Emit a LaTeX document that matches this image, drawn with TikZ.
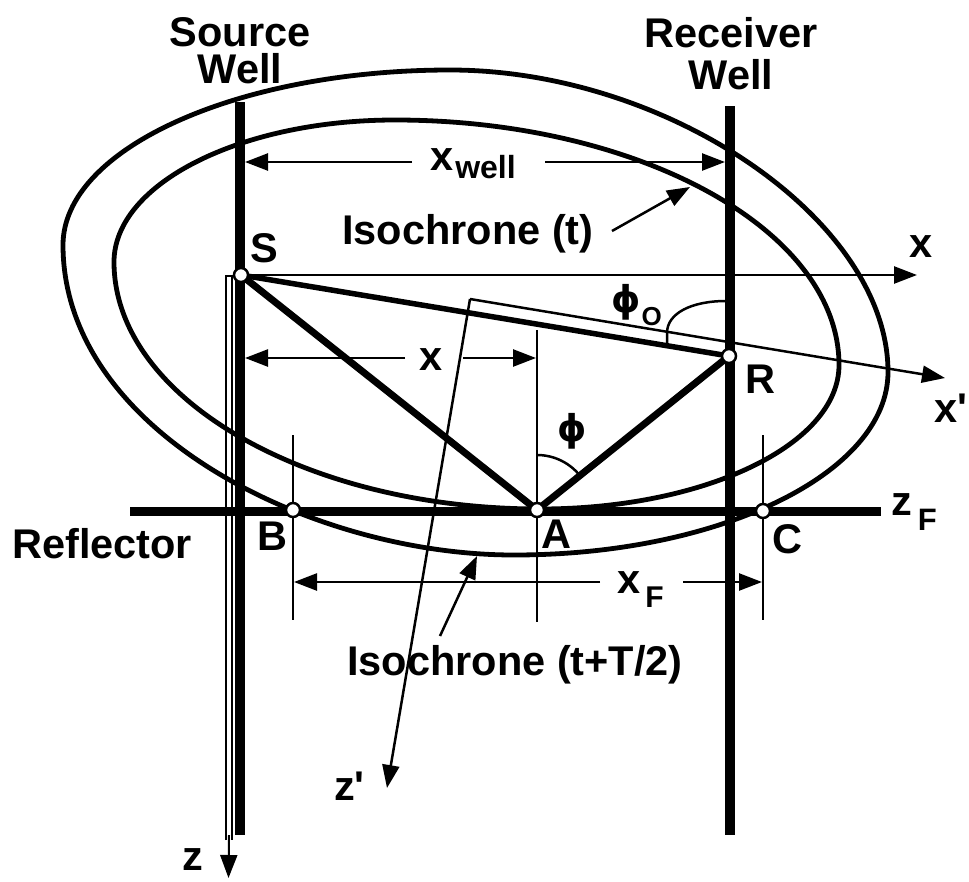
\documentclass[tikz,border=0pt]{standalone}
\usepackage{fontspec}
\setmainfont{Liberation Sans}[Ligatures=TeXOff]
\newfontfamily\phifont{DejaVu Sans}
\usetikzlibrary{arrows.meta}
\tikzset{
  lab/.style={font=\fontsize{41.5}{48}\selectfont\bfseries, inner sep=0pt, anchor=base west},
  stacklab/.style={font=\fontsize{41.5}{37}\selectfont\bfseries, inner sep=0pt, align=center},
  philab/.style={font={\fontsize{37}{44}\phifont\bfseries}, inner sep=0pt},
  dot/.style={circle, draw, fill=white, line width=2.5pt, minimum size=14pt, inner sep=0pt},
  wellln/.style={line width=9.5pt},
  ell/.style={line width=4.8pt},
  raypath/.style={line width=7pt, line cap=round},
  axisln/.style={line width=2.5pt},
  arrtip/.style={-{Triangle[length=23pt,width=17pt]}},
  dimln/.style={line width=2.5pt, arrtip},
}
\newcommand{\subtx}[3]{\raisebox{#1}{\fontsize{#2}{#2}\selectfont #3}}
\begin{document}
\begin{tikzpicture}[x=1pt,y=-1pt]
\useasboundingbox (0,0) rectangle (969,881);
% key points
\coordinate (pS) at (241,275);
\coordinate (pR) at (729,356);
\coordinate (pA) at (537,510);
\coordinate (pB) at (293,510);
\coordinate (pC) at (763,511);
% wells and reflector
\coordinate (SWtop) at (240,102);
\coordinate (SWbot) at (240,835);
\coordinate (RWtop) at (730,106);
\coordinate (RWbot) at (730,835);
\coordinate (RefL) at (130,511);
\coordinate (RefR) at (881,511);
% isochrone (t): inner
\coordinate (iL) at (114,262); \coordinate (iT) at (395,120);
\coordinate (iR) at (839,365); \coordinate (iB) at (540,509);
\draw[ell] (iL) .. controls (114,184) and (240,120) .. (iT)
  .. controls (639,120) and (839,230) .. (iR)
  .. controls (839,445) and (704,509) .. (iB)
  .. controls (306,509) and (114,398) .. cycle;
% isochrone (t+T/2): outer
\coordinate (oL) at (63,245); \coordinate (oT) at (450,70);
\coordinate (oR) at (888,372); \coordinate (oB) at (514,555);
\draw[ell] (oL) .. controls (63,149) and (237,70) .. (oT)
  .. controls (669,70) and (888,221) .. (oR)
  .. controls (888,473) and (720,555) .. (oB)
  .. controls (311,555) and (63,431) .. cycle;
\draw[wellln] (SWtop) -- (SWbot);
\draw[wellln] (RWtop) -- (RWbot);
\draw[line width=9pt] (RefL) -- (RefR);
% x axis
\coordinate (xEnd) at (917,275);
\draw[axisln, arrtip] (pS) -- (xEnd);
% z axis (hollow)
\coordinate (zA) at (226,276);
\coordinate (zB) at (232,276);
\coordinate (zAb) at (226,840);
\coordinate (zBb) at (232,840);
\coordinate (zMid) at (229,835);
\coordinate (zEnd) at (228.5,878);
\draw[line width=1.5pt] (zAb) -- (zA) -- (zB) -- (zBb);
\draw[line width=2pt, arrtip] (zMid) -- (zEnd);
% rotated frame
\coordinate (Op) at (470,299);
\coordinate (xpEnd) at (945,378);
\coordinate (zpEnd) at (387,788);
\draw[axisln, arrtip] (Op) -- (xpEnd);
\draw[axisln, arrtip] (Op) -- (zpEnd);
% ray paths
\draw[line width=5.5pt] (pS) -- (pR);
\draw[raypath] (pS) -- (pA) -- (pR);
% extension lines
\coordinate (eAt) at (537,330); \coordinate (eAb) at (537,622);
\coordinate (eBt) at (293,435); \coordinate (eBb) at (293,620);
\coordinate (eCt) at (763,435); \coordinate (eCb) at (763,620);
\draw[axisln] (eAt) -- (eAb);
\draw[axisln] (eBt) -- (eBb);
\draw[axisln] (eCt) -- (eCb);
% x_well dimension
\coordinate (xwL0) at (412,162); \coordinate (xwL1) at (245,162);
\coordinate (xwR0) at (545,162); \coordinate (xwR1) at (725,162);
\draw[dimln] (xwL0) -- (xwL1);
\draw[dimln] (xwR0) -- (xwR1);
% x dimension
\coordinate (xdL0) at (405,358); \coordinate (xdL1) at (245,358);
\coordinate (xdR0) at (463,358); \coordinate (xdR1) at (536,358);
\draw[dimln] (xdL0) -- (xdL1);
\draw[dimln] (xdR0) -- (xdR1);
% x_F dimension
\coordinate (xfL0) at (600,582); \coordinate (xfL1) at (294,582);
\coordinate (xfR0) at (683,582); \coordinate (xfR1) at (762,582);
\draw[dimln] (xfL0) -- (xfL1);
\draw[dimln] (xfR0) -- (xfR1);
% pointers
\coordinate (p1s) at (612,231); \coordinate (p1e) at (690,187);
\coordinate (p2s) at (440,636); \coordinate (p2e) at (477,556);
\draw[dimln] (p1s) -- (p1e);
\draw[dimln] (p2s) -- (p2e);
% angle arcs
\draw[axisln] plot[domain=-90:-39, samples=30] ({537+55*cos(\x)},{510+55*sin(\x)});
\coordinate (a0s) at (667,344); \coordinate (a0m) at (667,333); \coordinate (a0e) at (726,301);
\draw[axisln] (a0s) -- (a0m) .. controls (667,313) and (692,301) .. (a0e);
% points
\node[dot] (S) at (pS) {};
\node[dot] (R) at (pR) {};
\node[dot] (A) at (pA) {};
\node[dot] (B) at (pB) {};
\node[dot] (C) at (pC) {};
% labels
\node[stacklab] (srcwell) at (240,50.5) {Source\\Well};
\node[stacklab, font=\fontsize{41.5}{42}\selectfont\bfseries] (rcvwell) at (731,54) {Receiver\\Well};
\node[lab] (Slab) at (250,262) {S};
\node[lab] (Rlab) at (745,393) {R};
\node[lab] (Alab) at (541,548) {A};
\node[lab] (Blab) at (257,550) {B};
\node[lab] (Clab) at (772,553) {C};
\node[lab] (xlab) at (909,257) {x};
\node[lab] (xplab) at (934,422) {x'};
\node[lab] (xdlab) at (419,370) {x};
\node[lab] (xwlab) at (430,170) {x\hspace{2pt}\subtx{-8pt}{32}{well}};
\node[lab] (xFlab) at (617,593) {x\hspace{5pt}\subtx{-14pt}{30}{F}};
\node[lab] (zFlab) at (891,515) {z\hspace{6pt}\subtx{-15pt}{31}{F}};
\node[lab] (reflab) at (12,558) {Reflector};
\node[lab] (iso1) at (342,244) {Isochrone (t)};
\node[lab] (iso2) at (347,675) {Isochrone (t+T/2)};
\node[lab] (zplab) at (334,800) {z'};
\node[lab] (zlab) at (182,870) {z};
\node[philab] (phiA) at (572,431) {ϕ};
\node[lab] (phi0) at (611,312) {{\fontsize{37}{44}\phifont\bfseries ϕ}\hspace{1pt}\subtx{-13pt}{26}{O}};
\end{tikzpicture}
\end{document}
